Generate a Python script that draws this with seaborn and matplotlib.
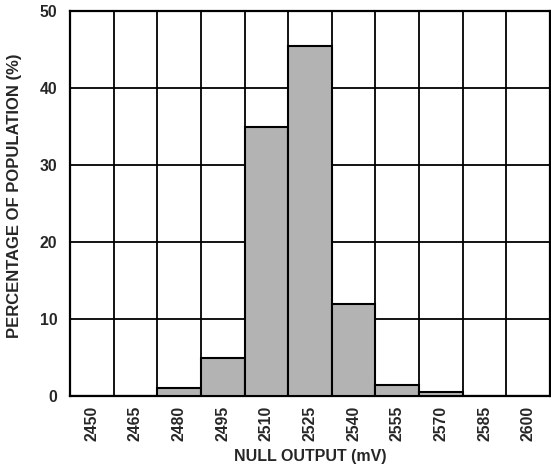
import seaborn as sns
import numpy as np
import pandas as pd
import matplotlib.pyplot as plt

# null output bins (mV) and share of population (%)
bins = ['2450', '2465', '2480', '2495', '2510', '2525', '2540', '2555', '2570', '2585', '2600']
percent = [0, 0, 1.0, 5.0, 34.9, 45.4, 11.9, 1.4, 0.5, 0, 0]

df = pd.DataFrame({'bin': bins, 'pct': percent})

sns.set_style('white')
plt.rcParams['font.family'] = ['Liberation Sans', 'DejaVu Sans']
plt.rcParams['font.weight'] = 'bold'

fig = plt.figure(figsize=(5.51, 4.71), dpi=100)
ax = fig.add_axes([70/551, 1 - 396/471, 480/551, 385/471])

sns.barplot(x='bin', y='pct', data=df, width=1, color='#b3b3b3',
            saturation=1, edgecolor='black', linewidth=1.5, ax=ax, zorder=3)

ax.set_xlim(-0.5, len(bins) - 0.5)
ax.set_ylim(0, 50)
ax.set_yticks(np.arange(0, 51, 10))
ax.set_xticks(np.arange(-0.5, len(bins), 1), minor=True)
ax.grid(True, which='minor', axis='x', color='black', linewidth=1.3, zorder=0)
ax.grid(True, which='major', axis='y', color='black', linewidth=1.3, zorder=0)
ax.grid(False, which='major', axis='x')
ax.set_axisbelow(True)

for s in ax.spines.values():
    s.set_color('black')
    s.set_linewidth(1.6)

ax.tick_params(axis='x', which='both', length=0, labelrotation=90, labelsize=11.3, pad=7)
ax.tick_params(axis='y', length=0, labelsize=11.3, pad=9)
for t in ax.get_xticklabels() + ax.get_yticklabels():
    t.set_fontweight('bold')

ax.set_xlabel('NULL OUTPUT (mV)', fontsize=11.5, fontweight='bold', labelpad=6)
ax.set_ylabel('PERCENTAGE OF POPULATION (%)', fontsize=12, fontweight='bold')
ax.yaxis.set_label_coords(-0.1, 0.52)

fig.savefig('out.png', dpi=100)
